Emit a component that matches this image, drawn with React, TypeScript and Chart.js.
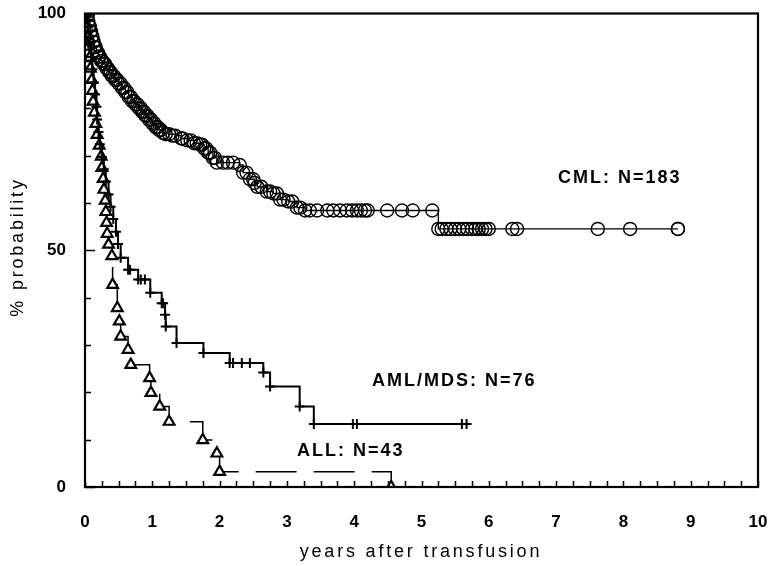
import { useEffect, useRef } from "react";
import { Chart, registerables } from "chart.js";

Chart.register(...registerables);

// Kaplan-Meier steps: time (years) and survival (%) after each drop.
const cmlYears = [0, 0.03, 0.05, 0.06, 0.08, 0.1, 0.12, 0.14, 0.17, 0.2, 0.24, 0.28, 0.32, 0.36, 0.4, 0.45, 0.5, 0.55, 0.6, 0.65, 0.7, 0.75, 0.8, 0.85, 0.9, 0.95, 1.0, 1.05, 1.1, 1.16, 1.25, 1.34, 1.43, 1.52, 1.62, 1.71, 1.77, 1.83, 1.9, 1.96, 2.3, 2.35, 2.45, 2.52, 2.56, 2.7, 2.8, 2.9, 3.02, 3.15, 3.27, 5.25, 8.81];
const cmlPct = [100, 99.5, 98.4, 97.3, 96.2, 95.1, 94.0, 92.9, 91.8, 90.9, 90.0, 89.3, 88.4, 87.6, 86.8, 86.0, 85.2, 84.3, 83.4, 82.4, 81.5, 80.8, 80.0, 79.2, 78.4, 77.6, 76.8, 76.0, 75.4, 74.8, 74.5, 74.2, 73.6, 73.2, 72.6, 72.3, 71.5, 70.6, 69.5, 68.5, 68.0, 66.4, 65.0, 64.2, 63.4, 62.4, 62.0, 60.7, 60.3, 59.0, 58.4, 54.5, 54.5];
// Censored CML patients (circles that sit on the flat parts of the curve).
const cmlCensorYears = [0.04, 0.07, 0.09, 0.11, 0.13, 0.16, 0.19, 0.22, 0.26, 0.3, 0.34, 0.38, 0.43, 0.48, 0.53, 0.58, 0.63, 0.68, 0.73, 0.78, 0.83, 0.88, 0.93, 0.98, 1.03, 1.08, 1.13, 1.2, 1.3, 1.45, 1.57, 1.66, 1.74, 1.8, 1.86, 1.93, 2.05, 2.12, 2.2, 2.4, 2.5, 2.62, 2.75, 2.85, 2.95, 3.08, 3.2, 3.34, 3.45, 3.6, 3.69, 3.79, 3.89, 3.97, 4.04, 4.1, 4.16, 4.2, 4.49, 4.71, 4.87, 5.16, 5.3, 5.37, 5.43, 5.5, 5.56, 5.62, 5.68, 5.75, 5.8, 5.85, 5.9, 5.95, 6.0, 6.35, 6.42, 7.62, 8.1, 8.81];
const cmlCensorPct = [99.5, 97.3, 96.2, 95.1, 94.0, 92.9, 91.8, 90.9, 90.0, 89.3, 88.4, 87.6, 86.8, 86.0, 85.2, 84.3, 83.4, 82.4, 81.5, 80.8, 80.0, 79.2, 78.4, 77.6, 76.8, 76.0, 75.4, 74.5, 74.2, 73.6, 73.2, 72.6, 72.3, 71.5, 70.6, 69.5, 68.5, 68.5, 68.5, 66.4, 65.0, 63.4, 62.4, 62.0, 60.7, 60.3, 59.0, 58.4, 58.4, 58.4, 58.4, 58.4, 58.4, 58.4, 58.4, 58.4, 58.4, 58.4, 58.4, 58.4, 58.4, 58.4, 54.5, 54.5, 54.5, 54.5, 54.5, 54.5, 54.5, 54.5, 54.5, 54.5, 54.5, 54.5, 54.5, 54.5, 54.5, 54.5, 54.5, 54.5];

const amlYears = [0, 0.03, 0.05, 0.07, 0.09, 0.11, 0.13, 0.15, 0.17, 0.18, 0.2, 0.22, 0.25, 0.28, 0.31, 0.35, 0.38, 0.42, 0.46, 0.49, 0.53, 0.64, 0.79, 0.97, 1.14, 1.19, 1.2, 1.36, 1.76, 2.15, 2.65, 2.75, 3.19, 3.4, 5.67];
const amlPct = [100, 98.7, 96.1, 93.4, 90.8, 88.2, 85.5, 82.9, 80.3, 77.6, 75.0, 72.4, 69.7, 67.1, 64.5, 61.8, 59.2, 56.6, 53.9, 51.3, 48.4, 45.9, 43.8, 41.0, 38.8, 36.4, 33.9, 30.4, 28.3, 26.2, 24.2, 21.2, 17.0, 13.3, 13.3];
const amlCensorYears = [0.67, 0.83, 0.89, 1.16, 2.2, 2.33, 2.45, 3.98, 4.04, 5.6];
const amlCensorPct = [45.9, 43.8, 43.8, 38.8, 26.2, 26.2, 26.2, 13.3, 13.3, 13.3];

const allYears = [0, 0.02, 0.04, 0.05, 0.07, 0.08, 0.1, 0.11, 0.12, 0.14, 0.16, 0.18, 0.21, 0.24, 0.25, 0.27, 0.28, 0.3, 0.31, 0.32, 0.33, 0.35, 0.4, 0.41, 0.48, 0.51, 0.53, 0.64, 0.68, 0.96, 0.98, 1.11, 1.25, 1.75, 1.96, 2.0, 4.55];
const allPct = [100, 97.7, 95.3, 93.0, 90.7, 88.4, 86.0, 83.7, 81.4, 79.1, 76.7, 74.4, 72.1, 69.8, 67.4, 65.1, 62.8, 60.5, 58.1, 55.8, 53.5, 51.2, 48.8, 42.7, 37.8, 35.0, 31.8, 29.0, 25.8, 23.0, 19.9, 17.0, 13.8, 9.9, 7.1, 3.2, 0];

const xTickLabels = [0, 1, 2, 3, 4, 5, 6, 7, 8, 9, 10];
const yTickLabels = [0, 50, 100];

const groupLabels = ["CML: N=183", "AML/MDS: N=76", "ALL: N=43"];
const groupLabelAnchors = [
  { x: 558, y: 178 },
  { x: 372, y: 381 },
  { x: 297, y: 451 },
];

const pts = (xs: number[], ys: number[]) => xs.map((x, i) => ({ x, y: ys[i] }));

const FONT = "'Liberation Sans', Arial, Helvetica, sans-serif";

// Tick labels may hang past the plot frame; keep them from shrinking it.
const noOverflow = (s: any) => {
  s.paddingLeft = 0;
  s.paddingRight = 0;
  s.paddingTop = 0;
  s.paddingBottom = 0;
};

// Frame, inward tick marks, axis titles and group labels.
const decorations = {
  id: "decorations",
  afterDraw(chart: any) {
    const { ctx, chartArea: a, scales } = chart;
    const xs = scales.x;
    const ys = scales.y;
    ctx.save();
    ctx.strokeStyle = "#000";
    ctx.lineWidth = 1.5;
    ctx.beginPath();
    for (const t of xs.ticks) {
      const px = Math.round(xs.getPixelForValue(t.value)) + 0.5;
      ctx.moveTo(px, a.bottom);
      ctx.lineTo(px, a.bottom - 6);
    }
    for (const t of ys.ticks) {
      const py = Math.round(ys.getPixelForValue(t.value)) + 0.5;
      const len = t.value % 50 === 0 ? 10 : 6;
      ctx.moveTo(a.left, py);
      ctx.lineTo(a.left + len, py);
    }
    ctx.stroke();
    ctx.lineWidth = 2.2;
    ctx.strokeRect(a.left, a.top, a.right - a.left, a.bottom - a.top);

    ctx.fillStyle = "#000";
    (ctx as any).letterSpacing = "2.8px";
    ctx.font = `18px ${FONT}`;
    ctx.textAlign = "center";
    ctx.textBaseline = "middle";
    ctx.fillText("years after transfusion", 421, 552);
    ctx.save();
    ctx.translate(18, 247);
    ctx.rotate(-Math.PI / 2);
    ctx.fillText("% probability", 0, 0);
    ctx.restore();

    (ctx as any).letterSpacing = "2px";
    ctx.font = `bold 18px ${FONT}`;
    ctx.textAlign = "left";
    groupLabels.forEach((txt, i) => {
      ctx.fillText(txt, groupLabelAnchors[i].x, groupLabelAnchors[i].y);
    });
    ctx.restore();
  },
};

export default function App() {
  const canvasRef = useRef<HTMLCanvasElement | null>(null);

  useEffect(() => {
    const canvas = canvasRef.current;
    if (!canvas) return;
    const black = "#000";
    const chart = new Chart(canvas, {
      type: "line",
      data: {
        datasets: [
          {
            data: pts(cmlYears, cmlPct),
            stepped: "before",
            borderColor: black,
            borderWidth: 1.3,
            pointStyle: "circle",
            pointRadius: 6.5,
            pointBorderWidth: 1.4,
            pointBackgroundColor: "rgba(0,0,0,0)",
            pointBorderColor: black,
          },
          {
            data: pts(cmlCensorYears, cmlCensorPct),
            showLine: false,
            pointStyle: "circle",
            pointRadius: 6.5,
            pointBorderWidth: 1.4,
            pointBackgroundColor: "rgba(0,0,0,0)",
            pointBorderColor: black,
          },
          {
            data: pts(amlYears, amlPct),
            stepped: "before",
            borderColor: black,
            borderWidth: 2,
            pointStyle: "cross",
            pointRadius: 5,
            pointBorderWidth: 2,
            pointBorderColor: black,
          },
          {
            data: pts(amlCensorYears, amlCensorPct),
            showLine: false,
            pointStyle: "cross",
            pointRadius: 5,
            pointBorderWidth: 2,
            pointBorderColor: black,
          },
          {
            data: pts(allYears, allPct),
            stepped: "before",
            borderColor: black,
            borderWidth: 1.5,
            borderDash: [41, 17],
            borderDashOffset: 9,
            pointStyle: "triangle",
            pointRadius: 6.2,
            pointBorderWidth: 2.2,
            pointBackgroundColor: "#fff",
            pointBorderColor: black,
          },
        ],
      },
      options: {
        animation: false,
        responsive: false,
        layout: { autoPadding: false, padding: { left: 8, right: 14, top: 13.5, bottom: 0 } },
        plugins: { legend: { display: false }, tooltip: { enabled: false } },
        scales: {
          x: {
            type: "linear",
            min: 0,
            max: 10,
            grid: { display: false, drawTicks: false },
            border: { display: false },
            afterFit: (s: any) => {
              s.height = 79;
              noOverflow(s);
            },
            afterBuildTicks: (s: any) => {
              const out = [];
              for (let i = 0; i <= 40; i++) out.push({ value: i / 4 });
              s.ticks = out;
            },
            ticks: {
              autoSkip: false,
              maxRotation: 0,
              padding: 25,
              color: black,
              font: { family: FONT, weight: "bold", size: 17 },
              callback: (v: any) => (xTickLabels.includes(v) ? String(v) : ""),
            },
          },
          y: {
            type: "linear",
            min: 0,
            max: 100,
            grid: { display: false, drawTicks: false },
            border: { display: false },
            afterFit: (s: any) => {
              s.width = 77;
              noOverflow(s);
            },
            ticks: {
              stepSize: 10,
              autoSkip: false,
              padding: 19,
              color: black,
              font: { family: FONT, weight: "bold", size: 17 },
              callback: (v: any) => (yTickLabels.includes(v) ? String(v) : ""),
            },
          },
        },
      },
      plugins: [decorations],
    } as any);
    return () => chart.destroy();
  }, []);

  return (
    <div style={{ position: "fixed", left: 0, top: 0, width: 772, height: 566, background: "#fff" }}>
      <canvas ref={canvasRef} width={772} height={566} />
    </div>
  );
}
